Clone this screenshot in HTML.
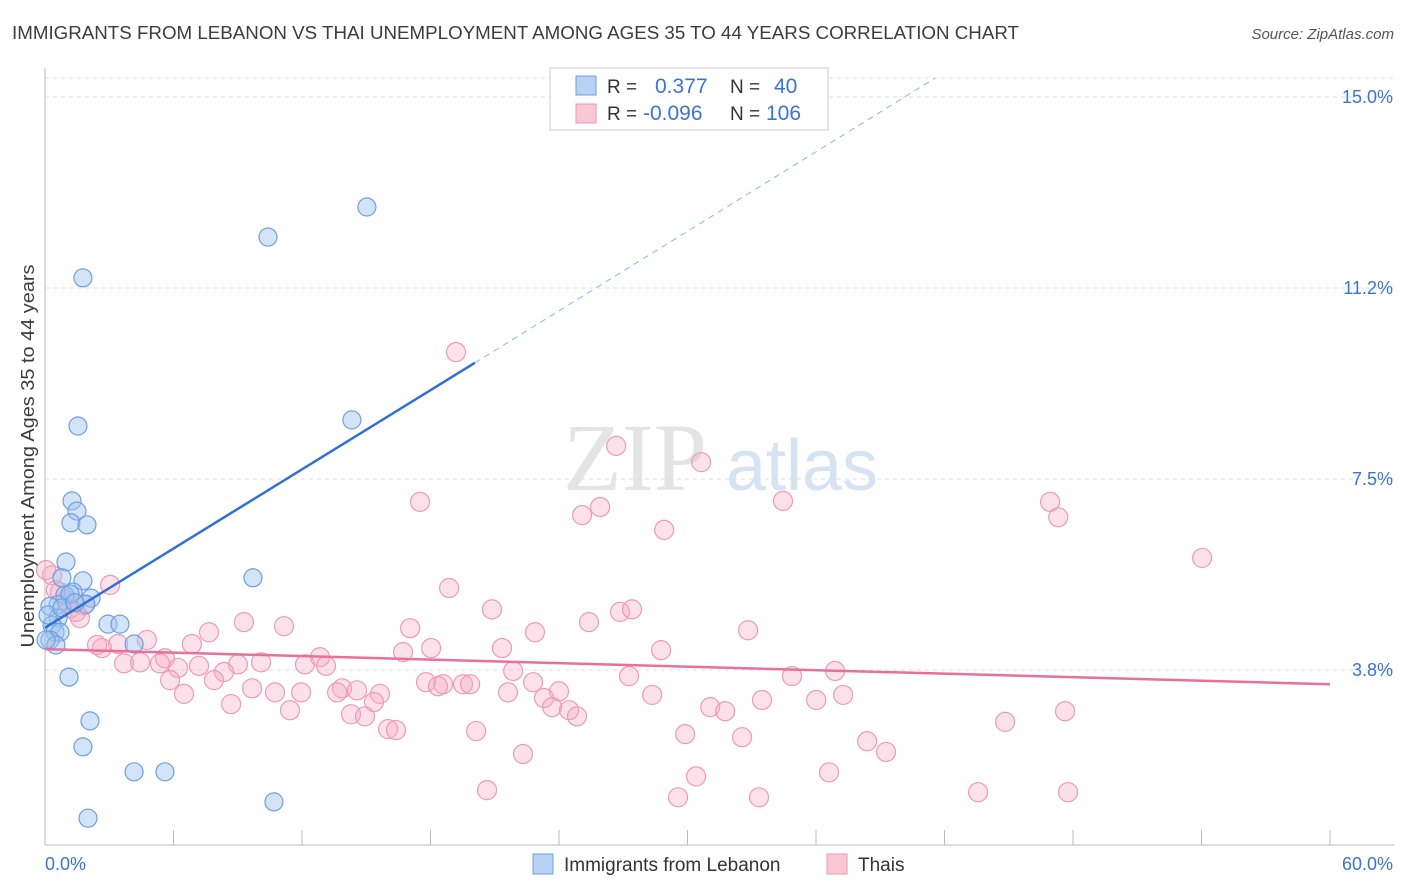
<!DOCTYPE html>
<html><head><meta charset="utf-8"><style>
body{margin:0;background:#fff;font-family:"Liberation Sans",sans-serif;}
svg{display:block}
</style></head><body>
<svg id="chart" width="1406" height="892">
<text x="12" y="39" font-size="18" fill="#3c3c3c" textLength="1007" lengthAdjust="spacingAndGlyphs">IMMIGRANTS FROM LEBANON VS THAI UNEMPLOYMENT AMONG AGES 35 TO 44 YEARS CORRELATION CHART</text>
<text x="1394" y="39" font-size="15" fill="#555" text-anchor="end" font-style="italic">Source: ZipAtlas.com</text>
<text x="34" y="456" font-size="18" fill="#3c3c3c" text-anchor="middle" textLength="383" lengthAdjust="spacingAndGlyphs" transform="rotate(-90 34 456)">Unemployment Among Ages 35 to 44 years</text>
<g><text x="635" y="490" font-size="96" fill="#e4e4e4" font-family="Liberation Serif,serif" text-anchor="middle">ZIP</text><text x="802" y="490" font-size="72" fill="#d6e3f3" text-anchor="middle">atlas</text></g>
<g id="grid"></g><g id="marks"></g>
<g>
<rect x="550" y="68" width="278" height="62" fill="#fff" stroke="#ccc"/>
<rect x="576" y="76" width="20" height="19" fill="#b7d2f3" stroke="#6d9fe0"/>
<rect x="576" y="104" width="20" height="19" fill="#f9c6d5" stroke="#ee96b0"/>
<text x="607" y="93" font-size="19" fill="#333">R =</text><text x="655" y="93" font-size="21" fill="#3a74d0">0.377</text>
<text x="730" y="93" font-size="19" fill="#333">N =</text><text x="774" y="93" font-size="21" fill="#3a74d0">40</text>
<text x="607" y="120" font-size="19" fill="#333">R =</text><text x="643" y="120" font-size="21" fill="#3a74d0">-0.096</text>
<text x="730" y="120" font-size="19" fill="#333">N =</text><text x="766" y="120" font-size="21" fill="#3a74d0">106</text>
</g>
<g>
<rect x="533" y="854" width="20" height="20" fill="#b7d2f3" stroke="#6d9fe0"/><text x="564" y="871" font-size="19" fill="#333">Immigrants from Lebanon</text>
<rect x="827" y="854" width="20" height="20" fill="#f9c6d5" stroke="#ee96b0"/><text x="858" y="871" font-size="19" fill="#333">Thais</text>
</g>
</svg>
<script>
const yTicks=[3.8,7.5,11.2,15.0];
const xTickLabels=["0.0%","60.0%"];
const blueX=[1.77,10.41,15.03,1.54,14.33,1.26,1.49,1.21,1.96,0.98,1.77,9.71,0.79,1.31,0.93,2.15,0.61,1.91,0.23,2.94,3.50,0.61,0.33,0.47,0.70,0.23,0.51,4.16,1.12,2.10,1.77,4.16,5.60,10.69,2.01,1.17,0.14,0.79,1.40,0.05];
const blueY=[11.45,12.25,12.84,8.54,8.66,7.07,6.87,6.64,6.60,5.87,5.50,5.56,5.56,5.28,5.22,5.16,5.03,5.04,5.00,4.65,4.65,4.77,4.63,4.49,4.49,4.34,4.24,4.26,3.61,2.75,2.24,1.75,1.75,1.16,0.84,5.24,4.83,4.97,5.07,4.34];
const pinkX=[19.19,26.67,30.64,17.51,25.92,25.08,34.46,46.93,47.31,28.91,
54.03,3.04,18.87,20.87,26.85,27.41,25.40,22.88,32.83,17.05,
9.29,11.16,7.66,4.76,6.86,3.41,2.66,2.43,18.03,21.34,
16.72,28.77,5.60,3.69,4.44,6.21,7.19,9.01,10.09,12.14,
12.84,13.12,5.37,21.86,36.89,34.88,27.27,8.36,5.84,7.89,
17.79,18.59,19.52,19.85,18.35,22.79,9.67,10.74,11.96,13.87,
14.57,15.64,13.64,6.49,21.62,24.00,23.30,28.35,37.27,15.36,
8.69,11.44,36.01,33.48,31.06,31.76,23.68,24.47,24.84,14.29,
14.94,16.02,16.39,20.13,29.89,32.55,38.39,39.27,44.83,47.63,
22.32,30.40,36.61,20.64,29.56,33.34,43.57,47.77,0.33,0.70,
0.98,1.63,1.82,0.51,1.17,1.45,0.05];
const pinkY=[9.99,8.15,7.83,7.05,6.95,6.79,7.07,7.05,6.75,6.50,
5.95,5.42,5.36,4.94,4.89,4.94,4.69,4.49,4.53,4.57,
4.69,4.61,4.49,4.34,4.26,4.26,4.18,4.24,4.18,4.18,
4.10,4.14,3.98,3.88,3.90,3.79,3.83,3.86,3.90,3.86,
4.00,3.83,3.88,3.73,3.73,3.63,3.63,3.71,3.55,3.55,
3.51,3.47,3.47,3.47,3.43,3.51,3.39,3.31,3.31,3.39,
3.35,3.28,3.31,3.28,3.31,3.33,3.20,3.26,3.26,3.12,
3.08,2.96,3.16,3.16,3.02,2.94,3.02,2.96,2.84,2.88,
2.84,2.59,2.57,2.55,2.49,2.43,2.35,2.14,2.73,2.94,
2.10,1.66,1.74,1.39,1.25,1.25,1.35,1.35,5.61,5.28,
5.12,4.77,5.02,5.32,4.96,4.89,5.71];
const blueTrend=[0,4.58,20.07,9.78];
const blueDashEnd=[41.56,15.37];
const pinkTrend=[0,4.16,60,3.47];
const NS="http://www.w3.org/2000/svg";
const X=v=>45+v/60*1285, Y=v=>97+(15-v)*50.93;
const grid=document.getElementById('grid'), marks=document.getElementById('marks');
function mk(tag,attrs,parent){const e=document.createElementNS(NS,tag);for(const k in attrs)e.setAttribute(k,attrs[k]);parent.appendChild(e);return e;}
let ax=mk('line',{x1:45,y1:68,x2:45,y2:845,stroke:'#bbb'},grid);


let bx=mk('line',{x1:45,y1:845,x2:1394,y2:845,stroke:'#bbb'},grid);


let tg=mk('line',{x1:45,y1:78,x2:1394,y2:78,stroke:'#ddd','stroke-dasharray':'4 4'},grid);


yTicks.forEach(t=>{
 const yv=t===15?15:(t===3.8?3.75:(t===7.5?7.5:11.25));
 let g=mk('line',{x1:45,y1:Y(yv),x2:1394,y2:Y(yv),stroke:'#ddd','stroke-dasharray':'4 4'},grid);
 
 
 let l=mk('text',{x:1393,y:Y(yv)+6,'font-size':18,fill:'#3a74d0','text-anchor':'end'},grid);l.textContent=t.toFixed(1)+'%';
 
 
});
for(let i=0;i<=10;i++){
 let t=mk('line',{x1:X(i*6),y1:830,x2:X(i*6),y2:845,stroke:'#bbb'},grid);
 
 
}
let xl0=mk('text',{x:45,y:870,'font-size':18,fill:'#3a74d0'},grid);xl0.textContent=xTickLabels[0];


let xl1=mk('text',{x:1393,y:870,'font-size':18,fill:'#3a74d0','text-anchor':'end'},grid);xl1.textContent=xTickLabels[1];


pinkX.forEach((v,i)=>{
 let c=mk('circle',{cx:X(v),cy:Y(pinkY[i]),r:9.5,fill:'rgba(245,170,195,0.35)',stroke:'#ee9ab5','stroke-width':1.2},marks);
 
 
});
blueX.forEach((v,i)=>{
 let c=mk('circle',{cx:X(v),cy:Y(blueY[i]),r:9,fill:'rgba(160,195,240,0.45)',stroke:'#6d9fe0','stroke-width':1.2},marks);
 
 
});
let bd=mk('line',{x1:X(blueTrend[2]),y1:Y(blueTrend[3]),x2:X(blueDashEnd[0]),y2:Y(blueDashEnd[1]),stroke:'#8fb3e6','stroke-width':1,'stroke-dasharray':'6 5'},marks);


let bl=mk('line',{x1:X(blueTrend[0]),y1:Y(blueTrend[1]),x2:X(blueTrend[2]),y2:Y(blueTrend[3]),stroke:'#2f6fd6','stroke-width':2.5},marks);


let pl=mk('line',{x1:X(pinkTrend[0]),y1:Y(pinkTrend[1]),x2:X(pinkTrend[2]),y2:Y(pinkTrend[3]),stroke:'#e8709a','stroke-width':2.5},marks);


</script>
</body></html>
